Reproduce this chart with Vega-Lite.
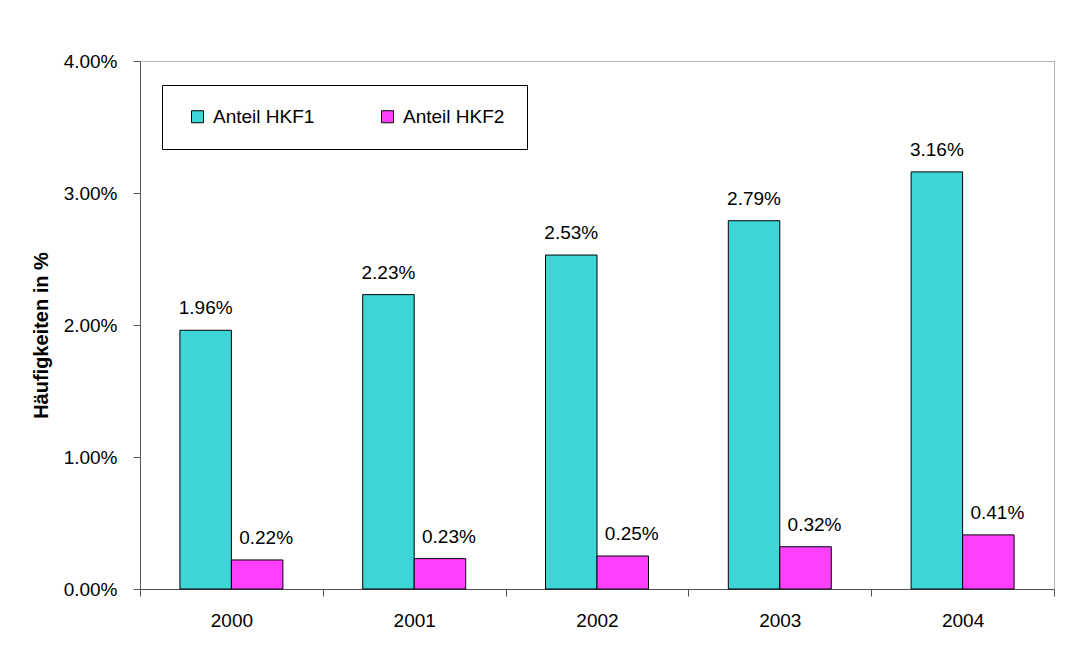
{
  "$schema": "https://vega.github.io/schema/vega-lite/v6.json",
  "width": 914,
  "height": 528,
  "autosize": {"type": "none"},
  "padding": {"left": 140, "top": 61, "right": 25, "bottom": 56},
  "background": "white",
  "config": {
    "font": "Liberation Sans",
    "view": {"stroke": "#b4b4b4", "strokeWidth": 1}
  },
  "data": {
    "values": [
      {"year": "2000", "series": "Anteil HKF1", "value": 0.0196},
      {"year": "2001", "series": "Anteil HKF1", "value": 0.0223},
      {"year": "2002", "series": "Anteil HKF1", "value": 0.0253},
      {"year": "2003", "series": "Anteil HKF1", "value": 0.0279},
      {"year": "2004", "series": "Anteil HKF1", "value": 0.0316},
      {"year": "2000", "series": "Anteil HKF2", "value": 0.0022},
      {"year": "2001", "series": "Anteil HKF2", "value": 0.0023},
      {"year": "2002", "series": "Anteil HKF2", "value": 0.0025},
      {"year": "2003", "series": "Anteil HKF2", "value": 0.0032},
      {"year": "2004", "series": "Anteil HKF2", "value": 0.0041}
    ]
  },
  "encoding": {
    "x": {
      "field": "year",
      "type": "nominal",
      "scale": {"paddingInner": 0, "paddingOuter": 0},
      "axis": {
        "title": null,
        "labelAngle": 0,
        "labelFontSize": 19,
        "labelColor": "black",
        "labelPadding": 15,
        "tickBand": "extent",
        "tickSize": 7,
        "tickColor": "#505050",
        "domainColor": "#505050",
        "grid": false
      }
    },
    "xOffset": {
      "field": "series",
      "type": "nominal",
      "scale": {"domain": ["Anteil HKF1", "Anteil HKF2"], "paddingInner": 0, "paddingOuter": 0.775}
    },
    "y": {
      "field": "value",
      "type": "quantitative",
      "scale": {"domain": [0, 0.04], "nice": false},
      "axis": {
        "title": "Häufigkeiten in %",
        "titleFontSize": 20,
        "titleFontWeight": "bold",
        "titleColor": "black",
        "titleX": -93,
        "titleY": 274,
        "titleAngle": -90,
        "titleAlign": "center",
        "titleBaseline": "alphabetic",
        "values": [0, 0.01, 0.02, 0.03, 0.04],
        "format": ".2%",
        "labelFontSize": 19,
        "labelColor": "black",
        "labelPadding": 16,
        "tickSize": 7,
        "tickColor": "#5a5562",
        "domainColor": "#5a5562",
        "grid": false
      }
    }
  },
  "layer": [
    {
      "mark": {"type": "bar", "stroke": "black", "strokeWidth": 1},
      "encoding": {
        "color": {
          "field": "series",
          "type": "nominal",
          "scale": {"domain": ["Anteil HKF1", "Anteil HKF2"], "range": ["#3CD6D6", "#FF40FF"]},
          "legend": {
            "orient": "none",
            "legendX": 22,
            "legendY": 24,
            "direction": "horizontal",
            "title": null,
            "symbolType": "square",
            "symbolSize": 144,
            "symbolStrokeColor": "black",
            "symbolStrokeWidth": 1,
            "labelFontSize": 19,
            "labelColor": "black",
            "labelOffset": 6,
            "columnPadding": 59,
            "padding": 22,
            "symbolOffset": 4,
            "strokeColor": "black",
            "fillColor": "white"
          }
        }
      }
    },
    {
      "transform": [{"filter": "datum.series === 'Anteil HKF1'"}],
      "mark": {"type": "text", "dy": -16, "baseline": "alphabetic", "fontSize": 19, "color": "black"},
      "encoding": {"text": {"field": "value", "type": "quantitative", "format": ".2%"}}
    },
    {
      "transform": [{"filter": "datum.series === 'Anteil HKF2'"}],
      "mark": {"type": "text", "dy": -16, "dx": 9, "baseline": "alphabetic", "fontSize": 19, "color": "black"},
      "encoding": {"text": {"field": "value", "type": "quantitative", "format": ".2%"}}
    }
  ]
}
